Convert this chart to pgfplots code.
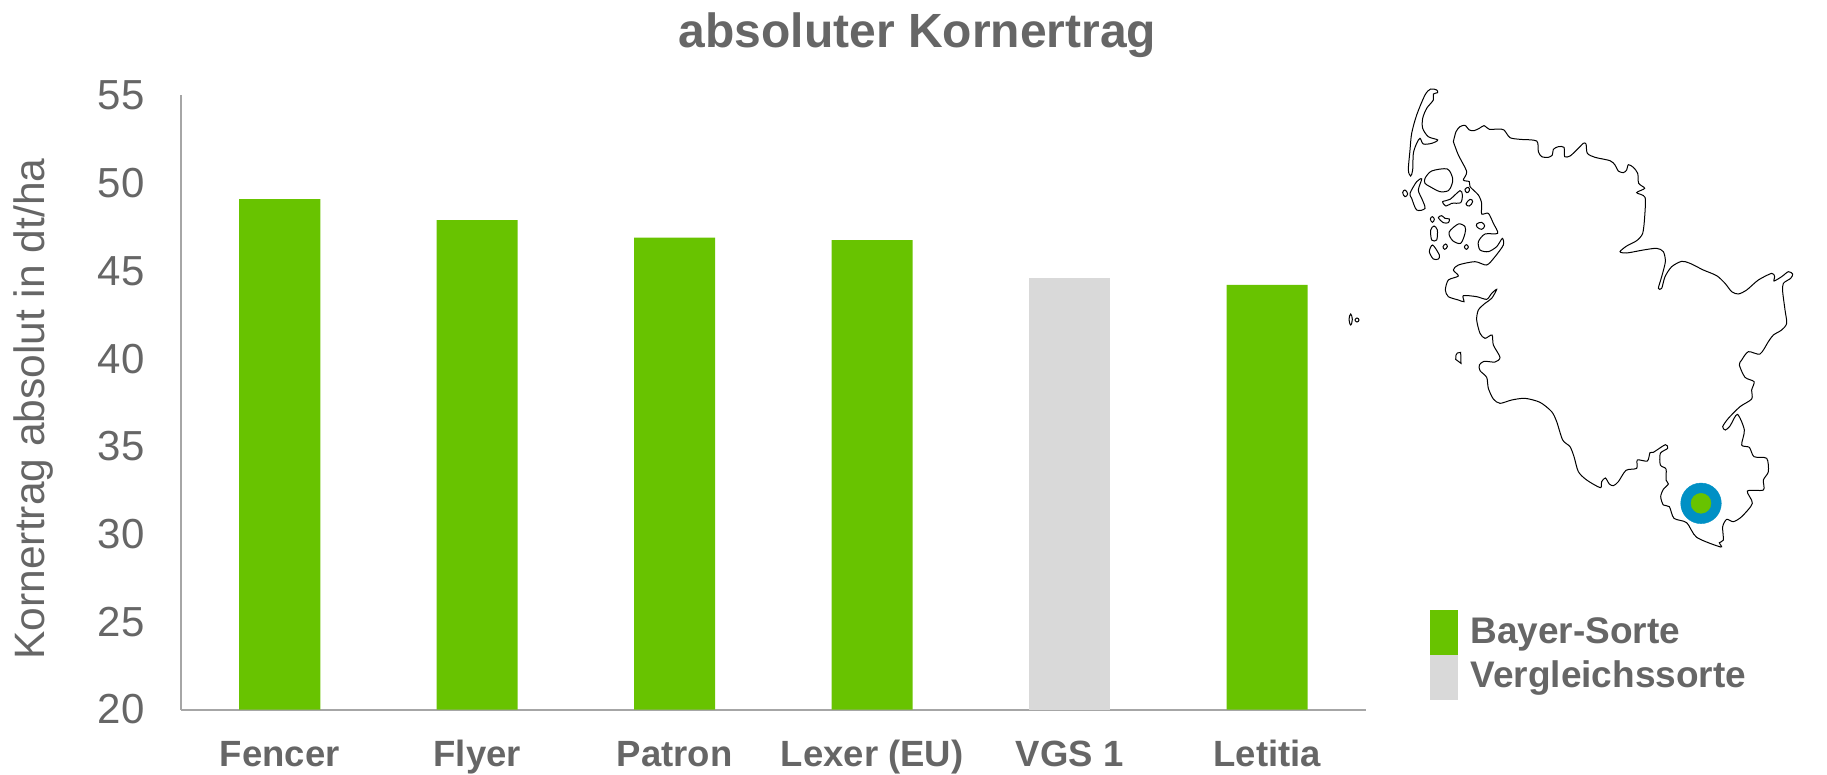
\documentclass[border=0pt]{standalone}
\usepackage{pgfplots}
\pgfplotsset{compat=1.18}
\usepackage{fontspec}
\setmainfont{Liberation Sans}
\definecolor{bgreen}{HTML}{68C300}
\definecolor{bgrey}{HTML}{D9D9D9}
\definecolor{txt}{HTML}{666666}
\definecolor{bblue}{HTML}{0090C5}
\definecolor{axl}{HTML}{A6A6A6}
\begin{document}
\begin{tikzpicture}[x=1pt,y=1pt]
\path[use as bounding box] (0,0) rectangle (1827,774);
\begin{axis}[
  at={(181pt,64.5pt)},anchor=south west,
  width=1185pt,height=614pt,scale only axis,
  xmin=0,xmax=6,ymin=20,ymax=55,
  ytick={20,25,...,55},
  xtick={0.5,1.5,2.5,3.5,4.5,5.5},
  xticklabels={Fencer,Flyer,Patron,Lexer (EU),VGS 1,Letitia},
  axis x line*=bottom,axis y line*=left,
  axis line style={draw=axl,line width=2pt,-},
  tick style={draw=none},
  major tick length=0pt,
  /pgf/number format/assume math mode=true,
  yticklabel style={font=\fontsize{42}{50}\selectfont,text=txt,anchor=east,xshift=-33pt},
  xticklabel style={font=\bfseries\fontsize{36.5}{44}\selectfont,text=txt,anchor=base,yshift=-57pt},
  clip=false,
]
\addplot[ybar,bar width=81pt,fill=bgreen,draw=none] coordinates {(0.5,49.1)(1.5,47.9)(2.5,46.9)(3.5,46.75)(5.5,44.2)};
\addplot[ybar,bar width=81pt,fill=bgrey,draw=none] coordinates {(4.5,44.6)};
\end{axis}
\node[font=\fontsize{42.5}{50}\selectfont,text=txt,anchor=base,rotate=90] at (44,774-409) {Kornertrag absolut in dt/ha};
\node[font=\bfseries\fontsize{48}{56}\selectfont,text=txt,anchor=base] at (917.5,774-48) {absoluter Kornertrag};
\begin{axis}[
  at={(1370pt,174pt)},anchor=south west,
  width=457pt,height=530pt,scale only axis,hide axis,
  xmin=0,xmax=1371,ymin=0,ymax=1590,y dir=reverse,clip=false,
]
\addplot[black,line width=1pt,smooth,tension=0.45] coordinates {(250,215)(258,185)(270,170)(285,166)(298,180)(312,182)(328,175)(342,167)(358,178)(385,177)(402,180)(420,203)(450,208)(500,213)(505,245)(515,260)(535,262)(547,255)(550,238)(565,230)(582,232)(584,260)(600,258)(620,240)(640,220)(648,222)(652,250)(675,262)(720,272)(735,285)(745,303)(760,308)(770,300)(775,284)(790,292)(803,310)(806,340)(824,355)(800,368)(825,382)(824,440)(818,490)(800,512)(770,528)(750,545)(770,549)(820,540)(860,535)(880,545)(886,575)(875,620)(865,655)(875,655)(885,620)(905,590)(935,574)(960,580)(1000,600)(1040,617)(1065,640)(1085,665)(1105,672)(1130,660)(1165,630)(1205,610)(1214,620)(1212,633)(1235,620)(1255,605)(1268,612)(1262,625)(1240,640)(1238,665)(1245,720)(1250,760)(1235,780)(1210,795)(1195,815)(1170,852)(1135,845)(1115,870)(1108,885)(1125,922)(1152,935)(1145,960)(1145,987)(1110,1010)(1075,1045)(1058,1070)(1066,1080)(1080,1068)(1102,1033)(1123,1080)(1115,1125)(1138,1132)(1152,1160)(1190,1165)(1195,1205)(1180,1230)(1180,1260)(1132,1263)(1147,1300)(1115,1340)(1090,1355)(1070,1348)(1058,1370)(1060,1410)(1048,1418)(1052,1431)(980,1402)(950,1358)(912,1345)(898,1310)(880,1305)(872,1280)(880,1258)(895,1242)(888,1230)(888,1197)(871,1185)(871,1150)(893,1135)(886,1124)(850,1147)(840,1148)(832,1173)(802,1170)(800,1195)(768,1201)(745,1235)(730,1247)(718,1242)(706,1224)(695,1235)(691,1253)(650,1230)(625,1205)(612,1160)(600,1130)(578,1110)(560,1055)(545,1025)(510,997)(465,985)(425,990)(390,1000)(370,987)(355,955)(350,922)(330,902)(328,885)(342,874)(375,876)(390,862)(370,825)(366,795)(345,805)(330,790)(320,750)(325,720)(345,700)(365,685)(380,658)(365,670)(350,688)(320,680)(280,677)(282,695)(265,690)(235,680)(226,660)(235,630)(265,618)(250,600)(265,585)(315,575)(350,585)(375,560)(400,525)(397,505)(380,530)(355,545)(330,540)(325,515)(345,492)(383,490)(370,460)(355,430)(335,432)(335,400)(325,375)(300,350)(298,335)(280,330)(290,305)(265,255)(250,215)};
\addplot[black,line width=1pt,smooth cycle,tension=0.5] coordinates {(182,57)(200,60)(203,68)(190,72)(190,90)(170,115)(158,145)(158,175)(175,200)(203,210)(185,220)(160,222)(150,205)(140,220)(130,250)(128,300)(122,318)(115,300)(120,240)(125,190)(140,135)(165,75)};
\addplot[black,line width=1pt,smooth cycle,tension=0.5] coordinates {(165,325)(185,303)(232,297)(248,325)(245,345)(235,362)(210,365)(180,350)(165,340)};
\addplot[black,line width=1pt,smooth cycle,tension=0.5] coordinates {(155,327)(145,360)(155,385)(165,415)(140,420)(125,385)(120,370)(140,335)};
\addplot[black,line width=1pt,smooth cycle,tension=0.7] coordinates {(98,368)(105,360)(113,372)(105,380)};
\addplot[black,line width=1pt,smooth cycle,tension=0.5] coordinates {(218,395)(240,388)(270,362)(277,375)(272,398)(245,400)(228,408)};
\addplot[black,line width=1pt,smooth cycle,tension=0.7] coordinates {(285,358)(295,352)(298,362)(290,368)};
\addplot[black,line width=1pt,smooth cycle,tension=0.7] coordinates {(288,402)(300,388)(308,395)(298,408)};
\addplot[black,line width=1pt,smooth cycle,tension=0.7] coordinates {(181,447)(187,440)(193,448)(187,457)};
\addplot[black,line width=1pt,smooth cycle,tension=0.5] coordinates {(205,443)(215,437)(225,445)(238,447)(235,458)(220,458)};
\addplot[black,line width=1pt,smooth cycle,tension=0.5] coordinates {(182,480)(192,468)(202,480)(200,510)(185,510)};
\addplot[black,line width=1pt,smooth cycle,tension=0.5] coordinates {(237,487)(265,462)(285,470)(285,490)(272,520)(248,512)};
\addplot[black,line width=1pt,smooth cycle,tension=0.6] coordinates {(320,462)(335,457)(344,468)(335,478)(322,472)};
\addplot[black,line width=1pt,smooth cycle,tension=0.7] coordinates {(219,530)(227,522)(232,530)(224,538)};
\addplot[black,line width=1pt,smooth cycle,tension=0.7] coordinates {(283,531)(289,524)(295,531)(289,538)};
\addplot[black,line width=1pt,smooth cycle,tension=0.5] coordinates {(178,545)(188,525)(208,555)(205,567)(190,567)};
\addplot[black,line width=1pt] coordinates {(258,855)(262,849)(272,847)(273,880)(257,868)(258,855)};
\addplot[black,line width=1pt,smooth cycle,tension=0.7] coordinates {(-63,748)(-58,732)(-53,748)(-58,765)};
\addplot[black,line width=1pt,smooth cycle,tension=0.7] coordinates {(-45,750)(-39,744)(-33,750)(-39,756)};
\addplot[only marks,mark=*,mark size=20.3pt,color=bblue] coordinates {(993,1300)};
\addplot[only marks,mark=*,mark size=10pt,color=bgreen] coordinates {(993,1300)};
\end{axis}
\fill[bgreen] (1430,774-655) rectangle (1457.5,774-610);
\fill[bgrey] (1430,774-700) rectangle (1457.5,774-655);
\node[font=\bfseries\fontsize{37}{44}\selectfont,text=txt,anchor=base west] at (1467,774-643) {Bayer-Sorte};
\node[font=\bfseries\fontsize{37}{44}\selectfont,text=txt,anchor=base west] at (1467,774-687) {Vergleichssorte};
\end{tikzpicture}
\end{document}
